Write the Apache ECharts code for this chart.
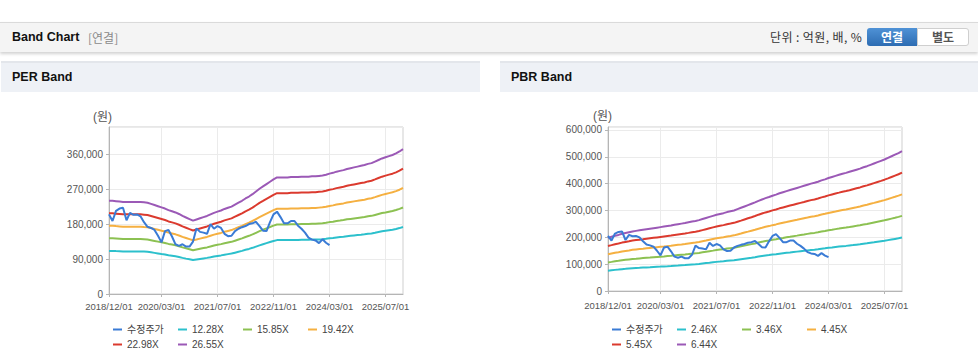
<!DOCTYPE html>
<html><head><meta charset="utf-8">
<script src="https://cdn.jsdelivr.net/npm/echarts@6/dist/echarts.min.js"></script>
<style>
body{margin:0;width:978px;height:361px;overflow:hidden;background:#fff;position:relative;font-family:"Liberation Sans","Noto Sans CJK KR",sans-serif}
.hdr{position:absolute;left:0;top:22px;width:978px;height:29px;background:#f4f4f4;border-top:1px solid #dadada;box-shadow:0 2px 3px rgba(0,0,0,0.18)}
.t1{position:absolute;left:12px;top:7px;font-size:12.5px;font-weight:bold;color:#111}
.t2{position:absolute;left:88px;top:7px;font-size:12px;color:#8a8a8a;font-family:"Noto Sans CJK KR",sans-serif;line-height:15px}
.unit{position:absolute;left:770px;top:6px;font-size:12px;color:#333;font-family:"Noto Sans CJK KR",sans-serif;line-height:16px;letter-spacing:0.4px}
.b1{position:absolute;left:867px;top:5px;width:50px;height:18px;border-radius:3px 0 0 3px;background:linear-gradient(#4f92d6,#2d6cb2);color:#fff;font-weight:bold;font-size:12px;text-align:center;line-height:18px;font-family:"Noto Sans CJK KR",sans-serif}
.b2{position:absolute;left:917px;top:5px;width:50px;height:16px;border:1px solid #cfcfcf;border-radius:0 3px 3px 0;background:#fff;color:#555;font-weight:bold;font-size:12px;text-align:center;line-height:16px;font-family:"Noto Sans CJK KR",sans-serif}
.pnl{position:absolute;top:61px;height:29px;background:#eef1f6;border-top:2px solid #e3e6eb}
.pnl span{position:absolute;left:11px;top:7px;font-size:12.5px;font-weight:bold;color:#111}
#c{position:absolute;left:0;top:0;width:978px;height:361px;z-index:2}
</style></head>
<body>
<div class="hdr"><div class="t1">Band Chart</div><div class="t2">[연결]</div>
<div class="unit">단위 : 억원, 배, %</div><div class="b1">연결</div><div class="b2">별도</div></div>
<div class="pnl" style="left:1px;width:479px"><span>PER Band</span></div>
<div class="pnl" style="left:500px;width:478px"><span>PBR Band</span></div>
<div id="c"></div>
<script>
const dates = [
"2018/12/01",
"2019/01/01","2019/02/01","2019/03/01","2019/04/01","2019/05/01","2019/06/01","2019/07/01","2019/08/01","2019/09/01","2019/10/01","2019/11/01","2019/12/01",
"2020/01/01","2020/02/01","2020/03/01","2020/04/01","2020/05/01","2020/06/01","2020/07/01","2020/08/01","2020/09/01","2020/10/01","2020/11/01","2020/12/01",
"2021/01/01","2021/02/01","2021/03/01","2021/04/01","2021/05/01","2021/06/01","2021/07/01","2021/08/01","2021/09/01","2021/10/01","2021/11/01","2021/12/01",
"2022/01/01","2022/02/01","2022/03/01","2022/04/01","2022/05/01","2022/06/01","2022/07/01","2022/08/01","2022/09/01","2022/10/01","2022/11/01","2022/12/01",
"2023/01/01","2023/02/01","2023/03/01","2023/04/01","2023/05/01","2023/06/01","2023/07/01","2023/08/01","2023/09/01","2023/10/01","2023/11/01","2023/12/01",
"2024/01/01","2024/02/01","2024/03/01","2024/04/01","2024/05/01","2024/06/01","2024/07/01","2024/08/01","2024/09/01","2024/10/01","2024/11/01","2024/12/01",
"2025/01/01","2025/02/01","2025/03/01","2025/04/01","2025/05/01","2025/06/01","2025/07/01","2025/08/01","2025/09/01","2025/10/01","2025/11/01","2025/12/01"];
const tickLabels = ["2018/12/01","2020/03/01","2021/07/01","2022/11/01","2024/03/01","2025/07/01"];

const price = [205000,188000,214000,220000,222000,190000,209000,204000,205000,200000,185000,173000,170000,165000,150000,133000,162000,165000,148000,128000,124000,128000,122000,122000,135000,169000,160000,158000,155000,180000,168000,175000,170000,155000,149000,150000,162000,168000,172000,175000,180000,182000,186000,175000,163000,162000,185000,205000,212000,198000,182000,182000,188000,188000,176000,168000,158000,145000,140000,138000,131000,141000,132000,126000];

const per1228 = [111000,111000,110500,110100,109600,109600,109600,109600,109600,109600,109200,108700,107300,105900,104500,103100,101800,99900,98500,97100,95300,93000,91100,89300,87400,88800,90200,91600,93000,94800,96700,98100,99400,101300,102700,104100,106400,108700,111000,113800,116100,118900,122100,125300,128100,130900,133700,136400,138800,138800,138800,138800,139200,139200,139200,139700,139700,139700,140100,140100,140600,141100,142000,143400,144300,145700,146600,147500,148900,149900,150800,151700,152600,153600,154900,155900,157700,159600,161400,162800,164200,165600,167400,169700,172500];
const per1585 = [143300,143300,142700,142100,141500,141500,141500,141500,141500,141500,140900,140300,138500,136700,134900,133100,131300,129000,127200,125400,123000,120000,117600,115200,112800,114600,116400,118200,120000,122400,124800,126600,128400,130700,132500,134300,137300,140300,143300,146900,149800,153400,157600,161800,165400,169000,172500,176100,179100,179100,179100,179100,179700,179700,179700,180300,180300,180300,180900,180900,181500,182100,183300,185100,186300,188100,189200,190400,192200,193400,194600,195800,197000,198200,200000,201200,203600,206000,208400,210100,211900,213700,216100,219100,222700];
const per1942 = [175600,175600,174800,174100,173400,173400,173400,173400,173400,173400,172600,171900,169700,167500,165300,163100,160900,158000,155800,153600,150700,147000,144100,141200,138300,140400,142600,144800,147000,150000,152900,155100,157300,160200,162400,164600,168200,171900,175600,179900,183600,188000,193100,198200,202600,207000,211400,215800,219500,219500,219500,219500,220200,220200,220200,220900,220900,220900,221600,221600,222400,223100,224600,226800,228200,230400,231900,233300,235500,237000,238500,239900,241400,242900,245100,246500,249400,252400,255300,257500,259700,261900,264800,268500,272900];
const per2298 = [207700,207700,206900,206000,205100,205100,205100,205100,205100,205100,204300,203400,200800,198200,195600,193000,190400,186900,184400,181800,178300,174000,170500,167000,163600,166200,168800,171400,174000,177400,180900,183500,186100,189500,192100,194700,199100,203400,207700,212900,217200,222400,228500,234600,239700,244900,250100,255300,259700,259700,259700,259700,260500,260500,260500,261400,261400,261400,262200,262200,263100,264000,265700,268300,270000,272600,274400,276100,278700,280400,282200,283900,285600,287300,289900,291700,295100,298600,302100,304700,307300,309800,313300,317600,322800];
const per2655 = [240000,240000,239000,238000,237000,237000,237000,237000,237000,237000,236000,235000,232000,229000,226000,223000,220000,216000,213000,210000,206000,201000,197000,193000,189000,192000,195000,198000,201000,205000,209000,212000,215000,219000,222000,225000,230000,235000,240000,246000,251000,257000,264000,271000,277000,283000,289000,295000,300000,300000,300000,300000,301000,301000,301000,302000,302000,302000,303000,303000,304000,305000,307000,310000,312000,315000,317000,319000,322000,324000,326000,328000,330000,332000,335000,337000,341000,345000,349000,352000,355000,358000,362000,367000,373000];

const pbr246 = [75600,77200,78700,79800,81400,82500,83700,84800,85600,86300,87100,87900,88600,89400,90200,90900,91700,92400,93200,94400,95100,95900,96600,97800,98900,99700,100800,102400,103900,105400,107000,108500,109600,110800,112300,113500,114600,116500,118400,120300,122200,124100,126100,128300,130300,132200,133700,135600,137100,139000,140600,142100,143600,145200,146700,148200,149700,151300,152800,153900,155500,157400,158900,160800,162300,163900,165400,166900,168100,169600,171100,172700,174200,176100,177600,179500,181400,183400,185300,187200,189500,191800,194100,196300,199000];
const pbr346 = [106400,108500,110700,112300,114400,116100,117700,119300,120300,121400,122500,123600,124600,125700,126800,127900,128900,130000,131100,132700,133800,134900,135900,137500,139200,140200,141800,144000,146100,148300,150400,152600,154200,155800,158000,159600,161200,163900,166600,169200,171900,174600,177300,180500,183200,185900,188000,190700,192900,195600,197700,199900,202000,204200,206300,208500,210600,212800,214900,216500,218700,221400,223500,226200,228300,230500,232600,234800,236400,238500,240700,242800,245000,247700,249800,252500,255200,257900,260600,263300,266500,269700,272900,276200,279900];
const pbr445 = [136800,139600,142300,144400,147200,149300,151300,153400,154800,156200,157500,158900,160300,161700,163100,164500,165800,167200,168600,170700,172100,173400,174800,176900,179000,180300,182400,185200,187900,190700,193500,196200,198300,200400,203200,205200,207300,210800,214200,217700,221100,224600,228000,232200,235600,239100,241800,245300,248100,251500,254300,257000,259800,262600,265300,268100,270900,273600,276400,278500,281200,284700,287500,290900,293700,296400,299200,302000,304000,306800,309600,312300,315100,318500,321300,324800,328200,331700,335100,338600,342700,346900,351000,355200,360000];
const pbr545 = [167600,170900,174300,176900,180300,182800,185300,187900,189600,191300,192900,194600,196300,198000,199700,201400,203100,204800,206500,209000,210700,212400,214100,216600,219200,220900,223400,226800,230200,233600,237000,240300,242900,245400,248800,251300,253900,258100,262300,266600,270800,275000,279300,284300,288600,292800,296200,300400,303800,308000,311400,314800,318200,321600,325000,328400,331700,335100,338500,341000,344400,348700,352000,356300,359700,363100,366400,369800,372400,375700,379100,382500,385900,390100,393500,397700,402000,406200,410400,414700,419700,424800,429900,435000,440900];
const pbr644 = [198000,202000,206000,209000,213000,216000,219000,222000,224000,226000,228000,230000,232000,234000,236000,238000,240000,242000,244000,247000,249000,251000,253000,256000,259000,261000,264000,268000,272000,276000,280000,284000,287000,290000,294000,297000,300000,305000,310000,315000,320000,325000,330000,336000,341000,346000,350000,355000,359000,364000,368000,372000,376000,380000,384000,388000,392000,396000,400000,403000,407000,412000,416000,421000,425000,429000,433000,437000,440000,444000,448000,452000,456000,461000,465000,470000,475000,480000,485000,490000,496000,502000,508000,514000,521000];

const perNames = ["수정주가","12.28X","15.85X","19.42X","22.98X","26.55X"];
const pbrNames = ["수정주가","2.46X","3.46X","4.45X","5.45X","6.44X"];
const perTicks = [0, 90000, 180000, 270000, 360000];
const pbrTicks = [0, 100000, 200000, 300000, 400000, 500000, 600000];

const colors = ["#3a7bd5","#2cc0cc","#8cc152","#f5b041","#db3a2e","#9b59b6"];
const FONT = '"Liberation Sans","Noto Sans CJK KR",sans-serif';
const showIdx = (i) => tickLabels.indexOf(dates[i]) >= 0;

function grid(left, top, bottom) {
  return {left: left, top: top, width: 294, height: bottom - top, show: true, borderColor: '#cfcfcf', borderWidth: 1, backgroundColor: 'transparent', outerBoundsMode: 'none', containLabel: false};
}
function xAx(g, margin) {
  return {type: 'category', gridIndex: g, data: dates, boundaryGap: false,
    axisLine: {lineStyle: {color: '#b5b5b5'}},
    axisTick: {show: true, length: 3, interval: showIdx, lineStyle: {color: '#b5b5b5'}},
    axisLabel: {interval: showIdx, fontSize: 9.5, color: '#555', margin: margin, fontFamily: FONT, hideOverlap: false},
    splitLine: {show: true, interval: showIdx, lineStyle: {color: '#ebebeb'}}};
}
function yAx(g, ticks, max) {
  const step = ticks[1] - ticks[0];
  return {type: 'value', gridIndex: g, min: ticks[0], max: max, interval: step,
    axisLine: {show: true, lineStyle: {color: '#b5b5b5'}},
    axisTick: {show: true, length: 3, lineStyle: {color: '#b5b5b5'}},
    axisLabel: {fontSize: 10, color: '#555', margin: 6, fontFamily: FONT, showMaxLabel: false,
      formatter: (v) => ticks.indexOf(v) >= 0 ? v.toLocaleString('en-US') : ''},
    splitLine: {lineStyle: {color: '#ebebeb'}}};
}
function legend(left, names) {
  return {left: left, top: 317, width: 280, itemWidth: 9, itemHeight: 2, itemGap: 0, icon: 'rect',
    selectedMode: false, data: names,
    textStyle: {fontSize: 10, color: '#444', width: 51, lineHeight: 15, fontFamily: FONT, padding: 0}};
}
const perData = [price, per1228, per1585, per1942, per2298, per2655];
const pbrData = [price, pbr246, pbr346, pbr445, pbr545, pbr644];
function mkSeries(names, data, g) {
  return names.map((n, i) => ({type: 'line', name: n, xAxisIndex: g, yAxisIndex: g, data: data[i],
    symbol: 'none', showSymbol: false, z: i === 0 ? 5 : 2,
    lineStyle: {width: 2, color: colors[i]}, itemStyle: {color: colors[i]}}));
}

const chart = echarts.init(document.getElementById('c'), null, {renderer: 'svg'});
chart.setOption({
  animation: false,
  grid: [grid(109, 127, 294), grid(608, 127, 291)],
  xAxis: [xAx(0, 8), xAx(1, 10)],
  yAxis: [yAx(0, perTicks, 430000), yAx(1, pbrTicks, 611000)],
  legend: [legend(108, perNames), legend(607, pbrNames)],
  graphic: [
    {type: 'text', left: 93, top: 111, style: {text: '(원)', fontSize: 12, fill: '#555', fontFamily: FONT}},
    {type: 'text', left: 593, top: 110, style: {text: '(원)', fontSize: 12, fill: '#555', fontFamily: FONT}}
  ],
  series: mkSeries(perNames, perData, 0).concat(mkSeries(pbrNames, pbrData, 1))
});
</script>
</body></html>
